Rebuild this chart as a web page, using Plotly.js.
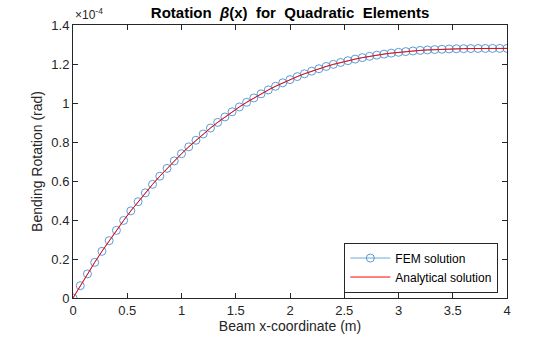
<!DOCTYPE html>
<html><head><meta charset="utf-8">
<script src="https://cdn.plot.ly/plotly-3.0.1.min.js"></script>
<style>html,body{margin:0;padding:0;background:#fff}#chart{width:560px;height:337px}</style>
</head><body><div id="chart"></div>
<script>
// x positions of nodes (m)
const xNodes = [0,0.0667,0.1333,0.2,0.2667,0.3333,0.4,0.4667,0.5333,0.6,0.6667,0.7333,0.8,0.8667,0.9333,1,
1.0667,1.1333,1.2,1.2667,1.3333,1.4,1.4667,1.5333,1.6,1.6667,1.7333,1.8,1.8667,1.9333,2,
2.0667,2.1333,2.2,2.2667,2.3333,2.4,2.4667,2.5333,2.6,2.6667,2.7333,2.8,2.8667,2.9333,3,
3.0667,3.1333,3.2,3.2667,3.3333,3.4,3.4667,3.5333,3.6,3.6667,3.7333,3.8,3.8667,3.9333,4];
// rotation values in units of 1e-4 rad
const femBeta = [0,0.0629,0.1238,0.1826,0.2393,0.2941,0.3469,0.3978,0.4468,0.4939,0.5393,0.5828,0.6246,0.6648,0.7032,0.74,
0.7752,0.8089,0.8410,0.8716,0.9007,0.9285,0.9548,0.9798,1.0035,1.0259,1.0471,1.0670,1.0858,1.1035,1.12,
1.1355,1.1499,1.1634,1.1758,1.1874,1.1981,1.2079,1.2169,1.2251,1.2326,1.2394,1.2454,1.2509,1.2557,1.26,
1.2637,1.2670,1.2698,1.2721,1.2741,1.2757,1.2770,1.2780,1.2787,1.2793,1.2796,1.2798,1.28,1.28,1.28];
const xExact = xNodes;
const exactBeta = femBeta;
const xTicks = [0,0.5,1,1.5,2,2.5,3,3.5,4];
const yTicks = [0,0.2,0.4,0.6,0.8,1,1.2,1.4];
const yTickText = ['0','0.2','0.4','0.6','0.8','1','1.2','1.4'];

const FONT = 'Liberation Sans, Arial, Helvetica, sans-serif';
const data = [
  {x: xNodes, y: femBeta, type:'scatter', mode:'lines+markers', name:'FEM solution',
   line:{color:'#0072BD', width:0.6},
   marker:{symbol:'circle-open', size:8, color:'#4A90D0', line:{width:0.9}}},
  {x: xExact, y: exactBeta, type:'scatter', mode:'lines', name:'Analytical solution',
   line:{color:'#FF0000', width:1}}
];
const axisCommon = {showgrid:false, zeroline:false, showline:true, linecolor:'#262626', linewidth:1,
  mirror:'allticks', ticks:'inside', ticklen:5, tickcolor:'#262626',
  tickfont:{family:FONT, size:13, color:'#262626'}};
const layout = {
  width:560, height:337, paper_bgcolor:'#fff', plot_bgcolor:'#fff',
  margin:{l:73, r:53, t:25, b:39},
  title:{text:'<b>Rotation  <i>β</i>(x)  for  Quadratic  Elements</b>', x:0.518, xanchor:'center', y:0.978, yanchor:'top',
    font:{family:FONT, size:15, color:'#000'}},
  xaxis:Object.assign({}, axisCommon, {range:[0,4], tickvals:xTicks, ticktext:xTicks.map(String),
    title:{text:'Beam x-coordinate (m)', font:{family:FONT, size:14, color:'#262626'}, standoff:3}}),
  yaxis:Object.assign({}, axisCommon, {range:[0,1.4], tickvals:yTicks, ticktext:yTickText,
    title:{text:'Bending Rotation (rad)', font:{family:FONT, size:14, color:'#262626'}, standoff:5}}),
  showlegend:true,
  legend:{x:0.98, xanchor:'right', y:0.02, yanchor:'bottom', bgcolor:'#fff', bordercolor:'#262626', borderwidth:1,
    font:{family:FONT, size:12, color:'#000'}, tracegroupgap:0, itemwidth:40},
  annotations:[{text:'×10<sup>-4</sup>', xref:'paper', yref:'paper', x:0, y:1, xanchor:'left', yanchor:'bottom', yshift:1,
    showarrow:false, font:{family:FONT, size:12, color:'#262626'}}]
};
Plotly.newPlot('chart', data, layout, {displayModeBar:false, staticPlot:true});
</script></body></html>
